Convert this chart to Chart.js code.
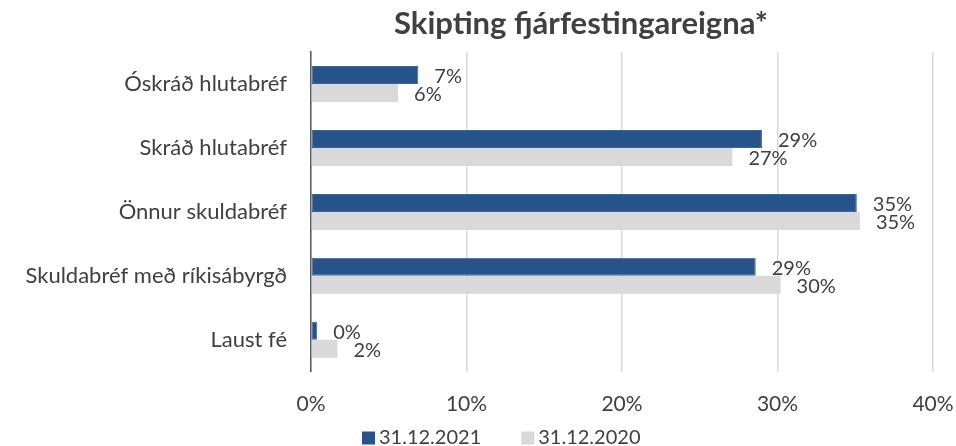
<!DOCTYPE html>
<html>
<head>
<meta charset="utf-8">
<script src="https://cdn.jsdelivr.net/npm/chart.js@4/dist/chart.umd.min.js"></script>
<style>
html,body{margin:0;padding:0;background:#fff;}
#wrap{width:956px;height:446px;position:relative;}
</style>
</head>
<body>
<div id="wrap"><canvas id="c" width="956" height="446"></canvas></div>
<script>
const title = "Skipting fjárfestingareigna*";
const categories = ["Óskráð hlutabréf", "Skráð hlutabréf", "Önnur skuldabréf", "Skuldabréf með ríkisábyrgð", "Laust fé"];
const seriesNames = ["31.12.2021", "31.12.2020"];
const values2021 = [6.9, 29.0, 35.1, 28.6, 0.4];
const values2020 = [5.6, 27.1, 35.3, 30.2, 1.7];
const xTicks = [0, 10, 20, 30, 40];
const seriesColors = ["#26538A", "#D9D9D9"];

const FONT = "Lato, 'DejaVu Sans', sans-serif";
const TXT = "#404040";

const titlePlugin = {
  id: "titleText",
  afterDraw(chart) {
    const ctx = chart.ctx;
    ctx.save();
    ctx.font = "bold 31px " + FONT;
    ctx.fillStyle = TXT;
    ctx.textAlign = "center";
    ctx.textBaseline = "alphabetic";
    ctx.fillText(title, 581, 34);
    ctx.restore();
  }
};

const legendPlugin = {
  id: "customLegend",
  afterDraw(chart) {
    const ctx = chart.ctx;
    ctx.save();
    ctx.font = "20px " + FONT;
    ctx.textBaseline = "middle";
    ctx.textAlign = "left";
    let x = 362;
    const yc = 438;
    chart.data.datasets.forEach((ds, i) => {
      ctx.fillStyle = ds.backgroundColor;
      ctx.fillRect(x, yc - 6.5, 13, 13);
      x += 13 + 4;
      ctx.fillStyle = TXT;
      ctx.fillText(ds.label, x, yc);
      x += ctx.measureText(ds.label).width + 40;
    });
    ctx.restore();
  }
};

const labelPlugin = {
  id: "valueLabels",
  afterDatasetsDraw(chart) {
    const ctx = chart.ctx;
    ctx.save();
    ctx.font = "20px " + FONT;
    ctx.fillStyle = TXT;
    ctx.textAlign = "left";
    ctx.textBaseline = "middle";
    chart.data.datasets.forEach((ds, di) => {
      const meta = chart.getDatasetMeta(di);
      meta.data.forEach((bar, i) => {
        ctx.fillText(Math.round(ds.data[i]) + "%", bar.x + 16, bar.y + 2);
      });
    });
    ctx.restore();
  }
};

new Chart(document.getElementById("c"), {
  type: "bar",
  data: {
    labels: categories,
    datasets: [
      { label: seriesNames[0], data: values2021, backgroundColor: seriesColors[0], borderColor: "#3A659A", borderWidth: 1, borderSkipped: false },
      { label: seriesNames[1], data: values2020, backgroundColor: seriesColors[1], borderWidth: 0 }
    ]
  },
  options: {
    indexAxis: "y",
    responsive: false,
    animation: false,
    devicePixelRatio: 1,
    layout: { padding: { top: 52, right: 23, left: 0, bottom: 9 } },
    datasets: { bar: { barPercentage: 1, categoryPercentage: 0.5625 } },
    scales: {
      x: {
        min: 0, max: 40,
        afterBuildTicks(scale) { scale.ticks = xTicks.map(v => ({ value: v })); },
        afterFit(scale) { scale.paddingLeft = 0; scale.paddingRight = 0; },
        grid: { color: "#D9D9D9", lineWidth: 1.5, drawTicks: false },
        border: { display: false },
        ticks: { padding: 20, color: TXT, font: { family: FONT, size: 21 }, maxRotation: 0, callback: v => v + "%" }
      },
      y: {
        afterFit(scale) { scale.width = 311; },
        grid: { display: false, drawTicks: false },
        border: { display: true, color: "#595959", width: 1.5 },
        ticks: { padding: 24, color: TXT, font: { family: FONT, size: 22 } }
      }
    },
    plugins: {
      legend: { display: false },
      tooltip: { enabled: false },
      title: { display: false }
    }
  },
  plugins: [titlePlugin, labelPlugin, legendPlugin]
});
</script>
</body>
</html>
